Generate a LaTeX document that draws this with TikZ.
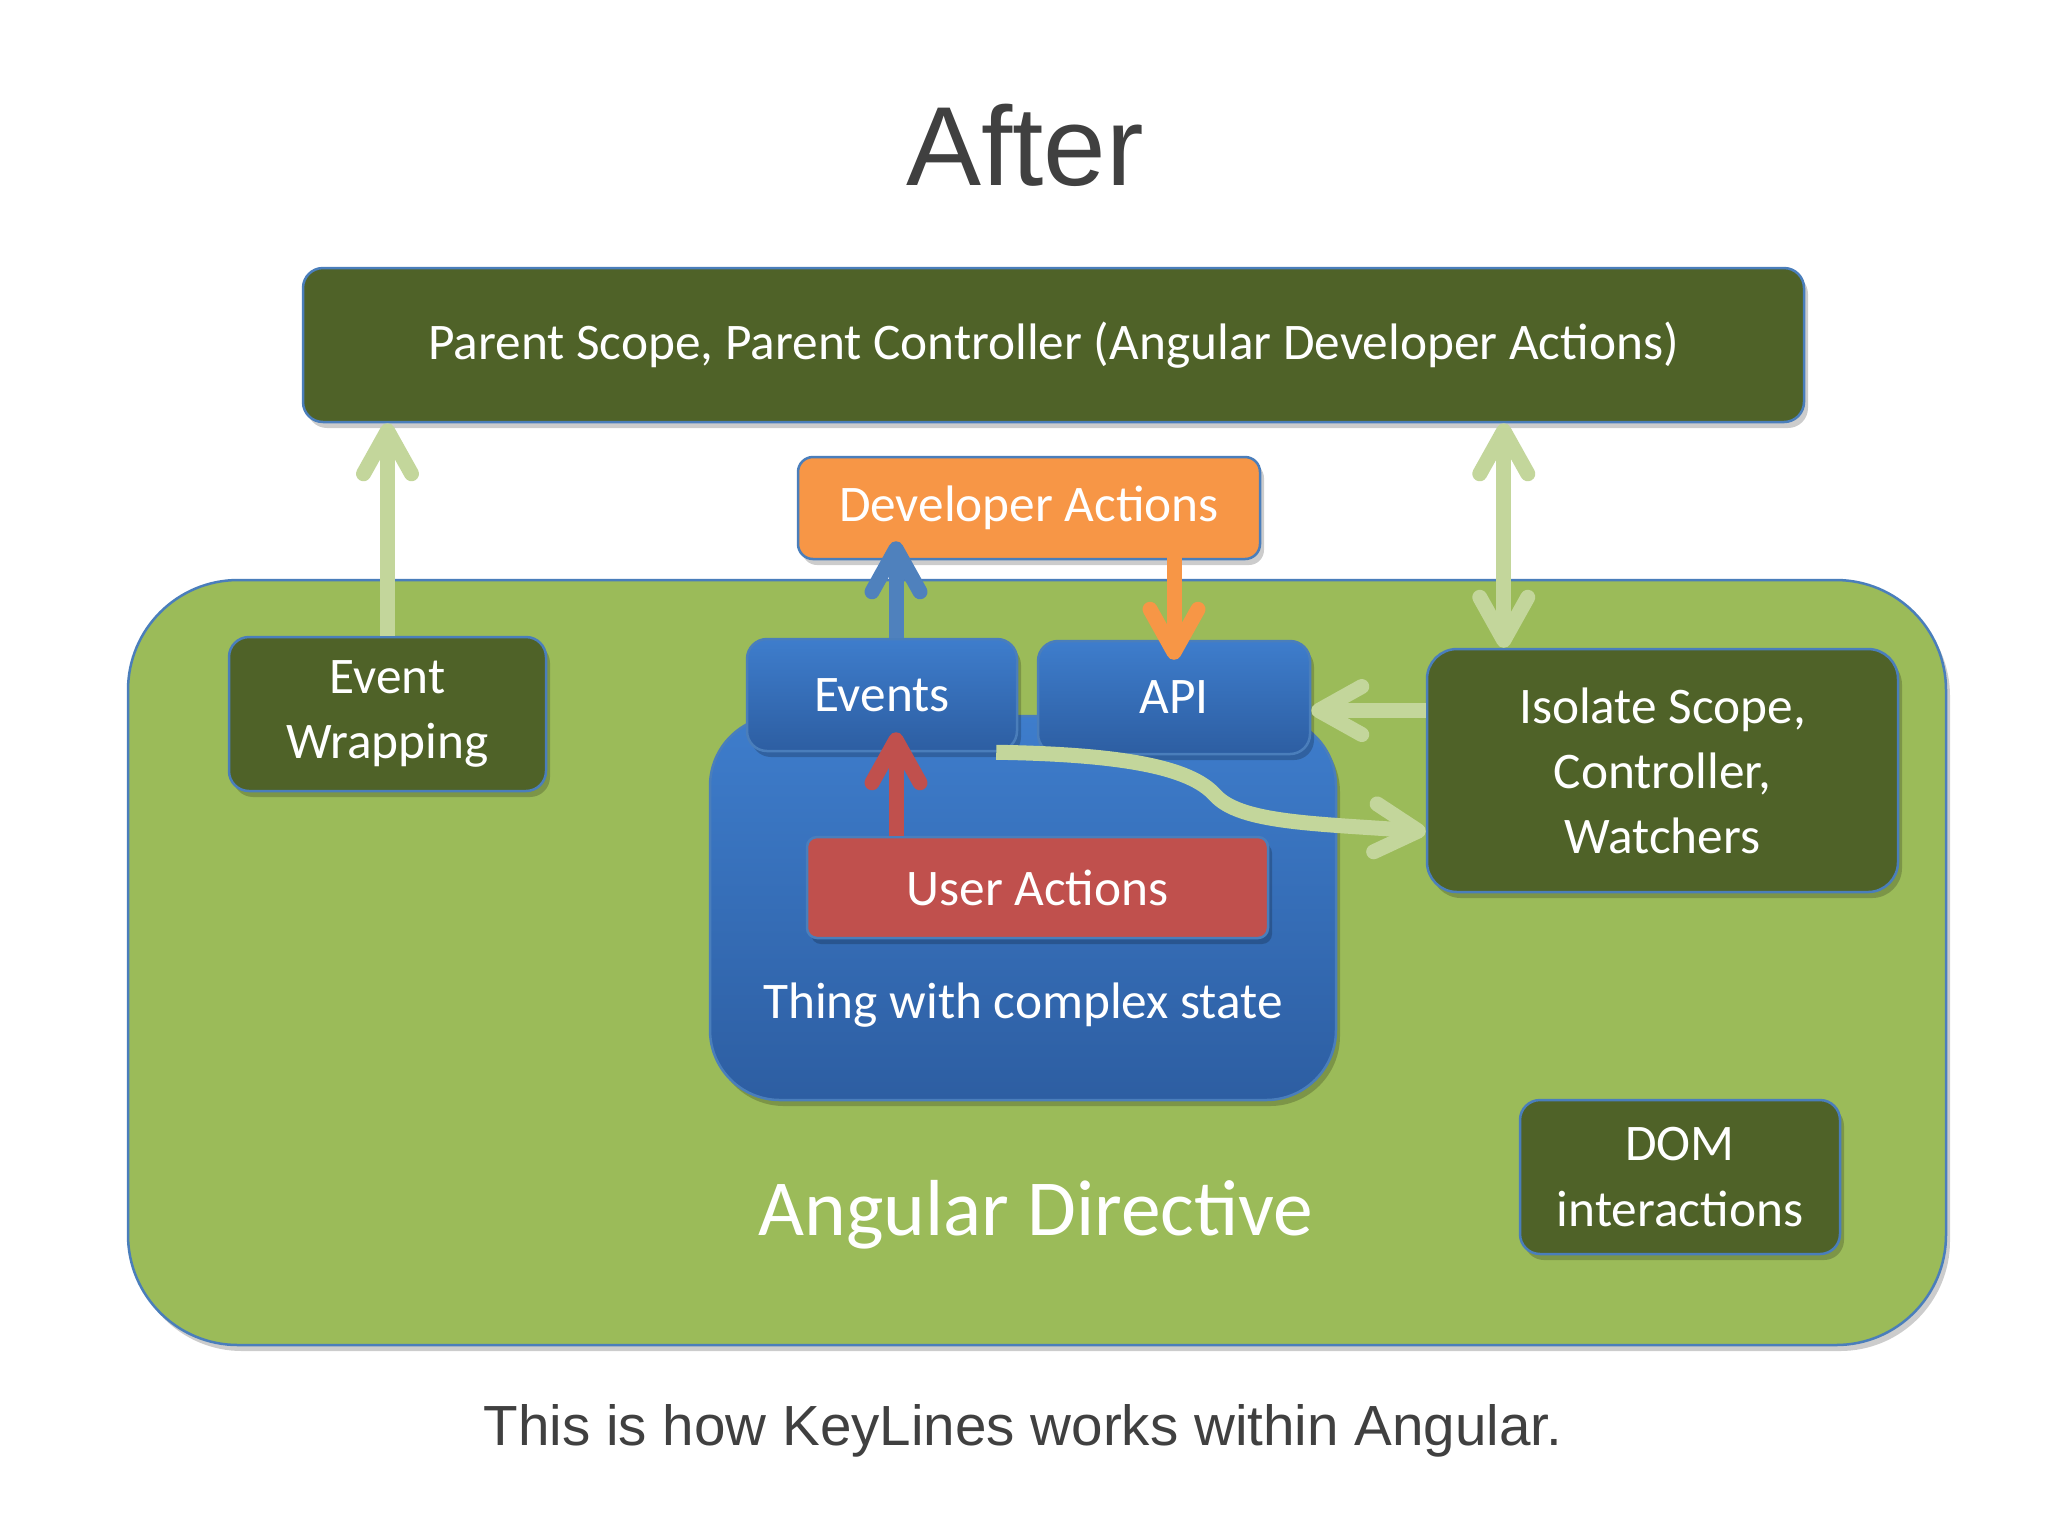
\documentclass[tikz,border=0pt]{standalone}
\usepackage{fontspec}
\setmainfont{Carlito}
\newfontfamily\capfont{Liberation Sans}
\usepackage{tikz}
\usetikzlibrary{arrows.meta,shadows}

\definecolor{scopegreen}{HTML}{4F6228}
\definecolor{directivegreen}{HTML}{9BBB59}
\definecolor{arrowgreen}{HTML}{C3D69B}
\definecolor{edgeblue}{HTML}{4A7EBB}
\definecolor{devorange}{HTML}{F79646}
\definecolor{userred}{HTML}{C0504D}
\definecolor{stateblue}{HTML}{4F81BD}
\definecolor{bluetop}{HTML}{3E7DCC}
\definecolor{bluebottom}{HTML}{2D5EA2}
\definecolor{textgray}{HTML}{404040}

\begin{document}
\begin{tikzpicture}[x=0.1mm, y=-0.1mm, font=\fontsize{14.6}{18.5}\selectfont, text=white,
  >={Straight Barb[length=4.3mm, width=4.8mm, round]},
  boxshadow/.style={drop shadow={shadow xshift=0.4mm, shadow yshift=-0.6mm, opacity=0.2, fill=black}},
  darkbox/.style={draw=edgeblue, line width=0.25mm, fill=scopegreen, rounded corners=2mm, align=center, inner sep=0pt, boxshadow},
  bluebox/.style={draw=edgeblue, line width=0.25mm, top color=bluetop, bottom color=bluebottom, rounded corners=2mm, align=center, inner sep=0pt, boxshadow},
  arr/.style={line width=1.5mm, ->}]
  \useasboundingbox[fill=white] (0,0) rectangle (2048,1536);

  % title and caption
  \node[text=textgray, font=\capfont\fontsize{32}{36}\selectfont] (title) at (1025,145) {After};
  \node[text=textgray, font=\capfont\fontsize{16.1}{19}\selectfont] (caption) at (1023,1431) {This is how KeyLines works within Angular.};

  % boxes
  \node[darkbox, minimum width=150.1mm, minimum height=15.4mm] (parent) at (1053.5,345) {Parent Scope, Parent Controller (Angular Developer Actions)};
  \node[draw=edgeblue, line width=0.25mm, fill=directivegreen, rounded corners=11mm, minimum width=181.8mm, minimum height=76.5mm, boxshadow] (directive) at (1037,962.5) {};
  \node[darkbox, minimum width=31.7mm, minimum height=15.4mm] (wrap) at (387.5,714) {Event\\Wrapping};
  \node[darkbox, rounded corners=3mm, minimum width=47.1mm, minimum height=24.3mm] (isolate) at (1662.5,770.5) {Isolate Scope,\\Controller,\\Watchers};
  \node[darkbox, minimum width=32mm, minimum height=15.4mm] (dom) at (1680,1177) {DOM\\interactions};
  \node[draw=edgeblue, line width=0.25mm, fill=devorange, rounded corners=1.5mm, minimum width=46.2mm, minimum height=10.2mm, inner sep=0pt, boxshadow] (dev) at (1029,508) {Developer Actions};
  \node[bluebox, rounded corners=7mm, minimum width=62.6mm, minimum height=38.4mm] (thing) at (1023,908) {};
  \node[bluebox, minimum width=27mm, minimum height=11.2mm] (events) at (882,695) {Events};
  \node[bluebox, minimum width=27.2mm, minimum height=11.3mm] (api) at (1174,697.5) {API};
  \node[draw=edgeblue, line width=0.25mm, fill=userred, rounded corners=1mm, minimum width=46.1mm, minimum height=10.1mm, inner sep=0pt, boxshadow] (user) at (1037.5,887.5) {User Actions};

  \node (thinglbl) at (1023,1005) {Thing with complex state};
  \node[font=\fontsize{22.6}{26}\selectfont] (directivelbl) at (1036,1215) {Angular Directive};

  % connectors
  \draw[arr, arrowgreen] (wrap.north) -- (wrap.north |- parent.south);
  \draw[arr, arrowgreen, <->] ([xshift=7.8mm]isolate.north west |- parent.south) -- ([xshift=7.8mm]isolate.north west);
  \draw[arr, arrowgreen] ([yshift=6mm]isolate.west) -- ([yshift=6mm]isolate.west -| api.east);
  \draw[arr, stateblue, shorten >=-1.9mm] ([xshift=1.4mm]events.north) -- ([xshift=1.4mm]events.north |- dev.south);
  \draw[arr, devorange, shorten <=-1.7mm, shorten >=-2mm] (dev.south -| api.north) -- (api.north);
  \draw[arr, userred, shorten >=-2mm] ([xshift=1.4mm]events.south |- user.north) -- ([xshift=1.4mm]events.south);
  \coordinate (bend) at (1215,795);
  \draw[arr, arrowgreen] ([xshift=-2.2mm]events.south east) .. controls +(125,2) and +(-25,-28) .. (bend)
     .. controls +(25,28) and +(-110,-8) .. ([yshift=-6.1mm]isolate.west);
\end{tikzpicture}
\end{document}
